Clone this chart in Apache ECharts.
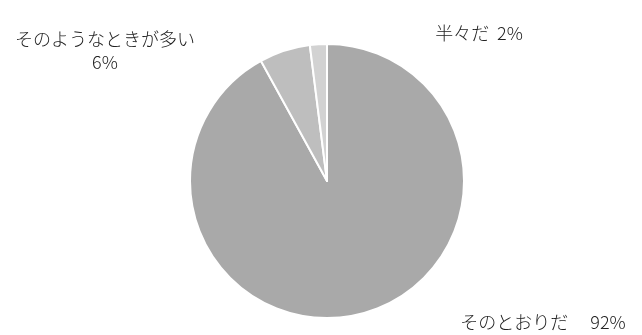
<!DOCTYPE html>
<html>
<head>
<meta charset="utf-8">
<script src="https://cdn.jsdelivr.net/npm/echarts@6/dist/echarts.min.js"></script>
<style>
html,body{margin:0;padding:0;background:#fff;}
#main{width:642px;height:335px;}
</style>
</head>
<body>
<div id="main"></div>
<script>
// 回答の項目と割合
var categories = ['そのとおりだ', 'そのようなときが多い', '半々だ'];
var values = [92, 6, 2];

// 色とラベルの位置(スキャン画像から読んだもの)
var colors = ['#a9a9a9', '#bebebe', '#d2d2d2'];
var labelPos = [
    {x: 543, y: 322},
    {x: 105, y: 51},
    {x: 479, y: 33}
];

var pieData = categories.map(function (name, i) {
    return {
        name: name,
        value: values[i],
        itemStyle: {color: colors[i]}
    };
});

var myChart = echarts.init(document.getElementById('main'));

var option = {
    backgroundColor: '#fff',
    animation: false,
    series: [
        {
            type: 'pie',
            center: [327, 181],
            radius: 137,
            startAngle: 90,
            clockwise: true,
            selectedMode: false,
            itemStyle: {
                borderColor: '#fff',
                borderWidth: 2
            },
            label: {
                show: true,
                color: '#222',
                fontFamily: 'Noto Sans CJK JP',
                fontSize: 18,
                fontWeight: 300,
                lineHeight: 23,
                formatter: function (p) {
                    if (p.dataIndex == 0) {
                        return p.name + '\u3000 ' + p.percent + '%';
                    } else if (p.dataIndex == 1) {
                        return p.name + '\n' + p.percent + '%';
                    }
                    return p.name + '  ' + p.percent + '%';
                }
            },
            labelLine: {show: false},
            // ラベルは円の外の決まった場所に置く
            labelLayout: function (params) {
                var pos = labelPos[params.dataIndex];
                return {
                    x: pos.x,
                    y: pos.y,
                    align: 'center',
                    verticalAlign: 'middle'
                };
            },
            emphasis: {disabled: true},
            data: pieData
        }
    ]
};

myChart.setOption(option);
</script>
</body>
</html>
